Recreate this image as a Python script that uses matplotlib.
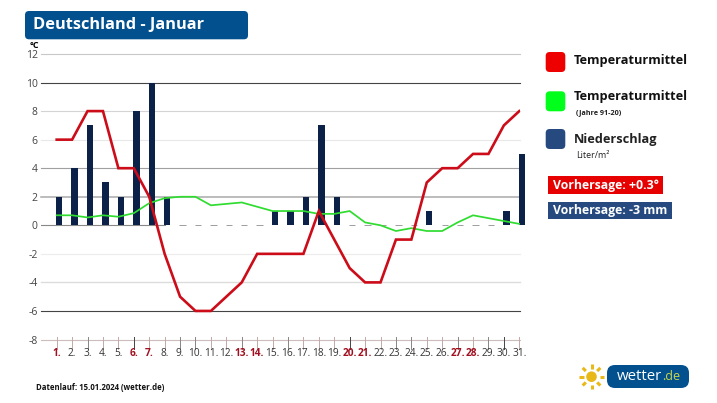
import numpy as np
import matplotlib
matplotlib.use("Agg")
import matplotlib.pyplot as plt
from matplotlib.patches import FancyBboxPatch, Rectangle, Circle

plt.rcParams["font.family"] = ["Open Sans", "DejaVu Sans"]

W, H = 717, 403

days = np.arange(1, 32)
temp = [6, 6, 8, 8, 4, 4, 2, -2, -5, -6, -6, -5, -4, -2, -2, -2, -2, 1, -1, -3,
        -4, -4, -1, -1, 3, 4, 4, 5, 5, 7, 8]
temp_norm = [0.7, 0.7, 0.55, 0.7, 0.6, 0.85, 1.55, 1.9, 2, 2, 1.4, 1.5, 1.6, 1.3, 1,
             1, 1, 0.8, 0.8, 1, 0.2, 0, -0.4, -0.2, -0.4, -0.4, 0.2, 0.7, 0.5, 0.3, 0.1]
rain = np.array([2, 4, 7, 3, 2, 8, 10, 2, 0, 0, 0, 0, 0, 0, 1, 1, 2, 7, 2, 0,
                 0, 0, 0, 0, 1, 0, 0, 0, 0, 1, 5])
red_days = [1, 6, 7, 13, 14, 20, 21, 27, 28]
dark_ticks = [6, 20, 30]
mid_ticks = [3, 9, 10, 13, 16, 23, 24, 27, 29]
y_ticks = [12, 10, 8, 6, 4, 2, 0, -2, -4, -6, -8]
grid_colors = {12: "#c8c8c8", 10: "#444444", 8: "#d4d4d4", 6: "#e8e8e8", 4: "#a0a0a0",
               2: "#aaaaaa", -2: "#ececec", -4: "#dcdcdc", -6: "#444444", -8: "#ccbcbc"}
grid_widths = {2: 1.1, -4: 1.0}

RED = "#cc0c18"
GREEN = "#2fdc2f"
NAVY = "#0b2148"
BLUE = "#264a80"
TITLE_BLUE = "#03508f"

fig = plt.figure(figsize=(W / 100, H / 100), dpi=100)
fig.patch.set_facecolor("white")

# overlay in pixel coordinates for the boxes, legend and logo
bg = fig.add_axes([0, 0, 1, 1])
bg.set_xlim(0, W)
bg.set_ylim(H, 0)
bg.axis("off")

# plot area: day 1 at x=56.7, day 31 at x=519.3, 12 at y=54, -8 at y=339.5
x0, x1 = 41, 519.5
y0, y1 = 54, 339.5
per_day = (519.3 - 56.7) / 30
ax = fig.add_axes([x0 / W, 1 - y1 / H, (x1 - x0) / W, (y1 - y0) / H])
ax.set_xlim(1 - (56.7 - x0) / per_day, 31 + (x1 - 519.3) / per_day)
ax.set_ylim(-8, 12)
ax.patch.set_alpha(0)
for s in ax.spines.values():
    s.set_visible(False)

for v in y_ticks:
    if v in grid_colors:
        ax.axhline(v, color=grid_colors[v], lw=grid_widths.get(v, 0.8), zorder=1, clip_on=False)
# zero line only runs under the first group of bars, dry days show up as flat dashes
ax.plot([ax.get_xlim()[0], 8], [0, 0], color="#888888", lw=0.8, zorder=1)

bar_off = 2.5 / per_day
ax.bar(days + bar_off, rain, width=6.4 / per_day, color=NAVY, zorder=2, clip_on=False)
dry = days[rain == 0]
ax.bar(dry + bar_off, np.zeros(len(dry)), width=6.4 / per_day, edgecolor="#777777", lw=0.5, zorder=2)
ax.plot(days, temp_norm, color=GREEN, lw=1.25, zorder=3, solid_joinstyle="miter")
ax.plot(days, temp, color=RED, lw=1.9, zorder=4, solid_joinstyle="miter")

ax.set_yticks(y_ticks)
ax.set_yticklabels([str(v) for v in y_ticks], fontsize=7.5, color="#444444")
ax.tick_params(axis="y", length=0, pad=2.5)
ax.set_xticks(days)
ax.set_xticklabels([f"{d}." for d in days], fontsize=7.3, color="#333333")
ax.tick_params(axis="x", length=0, pad=6)
for lab, d in zip(ax.get_xticklabels(), days):
    if d in red_days:
        lab.set_color("#a01020")
        lab.set_fontweight("bold")
for d in days:
    col = "#444444" if d in dark_ticks else "#8a8484" if d in mid_ticks else "#c4a8a8"
    ax.plot([d, d], [-8.65, -7.8], color=col, lw=0.7, zorder=1, clip_on=False)

# title box
bg.add_patch(FancyBboxPatch((25, 11), 223, 28.3, boxstyle="round,pad=0,rounding_size=4",
                            fc=TITLE_BLUE, ec="none"))
bg.text(33, 25, "Deutschland - Januar", color="white", fontsize=11.8, fontweight="bold",
        va="center", ha="left")
bg.text(29.5, 45.5, "°C", color="black", fontsize=6.5, fontweight="bold", va="center")

# legend
for yc, col in [(62, "#ee0000"), (101.3, "#00ff1a"), (139, BLUE)]:
    bg.add_patch(FancyBboxPatch((545.7, yc - 10), 19.6, 20, boxstyle="round,pad=0,rounding_size=4",
                                fc=col, ec="none"))
bg.text(573.5, 60.5, "Temperaturmittel", fontsize=9.15, fontweight="bold", color="#111111", va="center")
bg.text(573.5, 96.5, "Temperaturmittel", fontsize=9.15, fontweight="bold", color="#111111", va="center")
bg.text(575.7, 113, "(Jahre 91-20)", fontsize=5.2, fontweight="bold", color="#222222", va="center")
bg.text(574, 140, "Niederschlag", fontsize=9.15, fontweight="bold", color="#222222", va="center")
bg.text(576, 155.7, "Liter/m²", fontsize=6.4, color="#222222", va="center")

bg.add_patch(Rectangle((548.3, 176), 114.4, 18, fc="#e60000", ec="none"))
bg.text(553.3, 185, "Vorhersage: +0.3°", fontsize=8.8, fontweight="bold", color="white", va="center")
bg.add_patch(Rectangle((548.3, 201.7), 123.7, 17.6, fc=BLUE, ec="none"))
bg.text(553.3, 210.7, "Vorhersage: -3 mm", fontsize=8.8, fontweight="bold", color="white", va="center")

bg.text(35.7, 387, "Datenlauf: 15.01.2024 (wetter.de)", fontsize=5.6, fontweight="bold",
        color="#111111", va="center")

# wetter.de logo
sun_x, sun_y = 591.5, 376.7
bg.add_patch(Circle((sun_x, sun_y), 5.3, fc="#e8b818", ec="none"))
for a in np.arange(8) * np.pi / 4:
    bg.plot([sun_x + 8 * np.cos(a), sun_x + 12.5 * np.cos(a)],
            [sun_y + 8 * np.sin(a), sun_y + 12.5 * np.sin(a)],
            color="#e8b818", lw=2.2, solid_capstyle="butt")
bg.add_patch(FancyBboxPatch((607, 365), 82, 23, boxstyle="round,pad=0,rounding_size=8",
                            fc=TITLE_BLUE, ec="none"))
bg.text(617, 376.5, "wetter", fontsize=10.8, color="white", va="center")
bg.text(662.5, 376.5, ".de", fontsize=9, color="#c8d84a", va="center")

fig.savefig("out.png", dpi=100)
